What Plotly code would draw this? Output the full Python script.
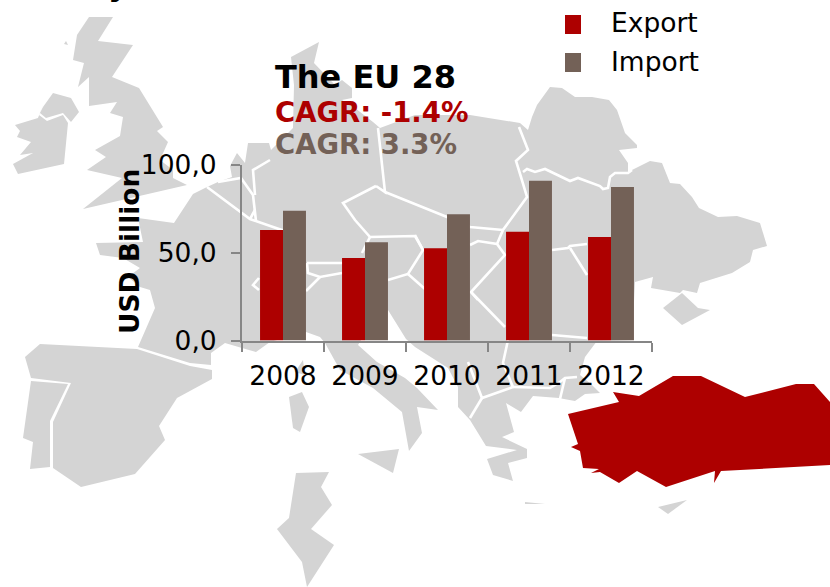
import plotly.graph_objects as go

W, H = 830, 587

# Chart data
years = ["2008", "2009", "2010", "2011", "2012"]
export_values = [63, 47, 52.5, 62, 59]
import_values = [74, 56, 72, 91, 87.5]
y_ticks = [0, 50, 100]
y_tick_labels = ["0,0", "50,0", "100,0"]

RED = "#AD0000"
BROWN = "#736157"
LAND = "#D4D4D4"
AXIS = "#868686"
FONT = "DejaVu Sans"

# Decorative backdrop map, outlines in page pixels
land_outlines = [
    [(89,17),(113,17),(98,41),(133,45),(112,77),(139,88),(163,127),(157,131),(168,142),(160,160),(173,170),(173,178),(187,185),(135,197),(83,209),(122,178),(87,170),(106,157),(95,150),(120,136),(123,117),(110,113),(117,102),(89,106),(89,77),(78,87),(84,63),(73,60),(77,35)],
    [(66,41),(68,45),(64,44)],
    [(53,93),(71,98),(79,112),(71,122),(63,113),(46,118),(40,113),(43,107)],
    [(44,102),(38,118),(15,125),(20,131),(17,137),(31,142),(20,155),(33,153),(13,164),(18,174),(64,164),(68,123),(63,115),(47,121),(39,115)],
    [(96,243),(143,242),(138,218),(174,223),(193,194),(207,187),(218,182),(232,177),(230,166),(237,153),(245,163),(248,143),(269,143),(271,150),(293,128),(294,85),(291,57),(319,42),(314,63),(335,85),(342,80),(352,88),(352,98),(342,100),(355,108),(373,122),(380,128),(415,115),(470,115),(520,123),(528,130),(532,117),(537,105),(550,87),(562,88),(575,97),(592,97),(609,100),(617,110),(625,133),(637,145),(637,148),(619,150),(628,163),(628,172),(632,170),(650,161),(662,163),(670,183),(680,184),(692,197),(699,208),(718,217),(737,216),(760,223),(767,246),(753,250),(750,262),(732,273),(700,283),(697,293),(683,290),(680,293),(651,288),(653,277),(635,282),(632,340),(597,341),(585,357),(580,375),(592,385),(600,393),(585,394),(575,401),(564,399),(559,398),(533,396),(521,412),(506,403),(514,432),(502,437),(527,449),(527,458),(508,463),(513,481),(493,475),(487,459),(517,450),(486,446),(470,420),(458,407),(458,387),(448,368),(415,347),(406,339),(388,310),(370,325),(358,345),(377,362),(405,378),(417,388),(438,410),(417,407),(422,433),(409,451),(402,412),(373,388),(340,370),(325,343),(320,337),(306,332),(270,342),(256,352),(242,348),(225,343),(211,353),(211,365),(190,363),(138,347),(155,308),(150,290),(140,287),(128,277),(140,268),(123,258),(100,255)],
    [(682,293),(698,308),(710,310),(682,325),(663,308)],
    [(40,344),(137,349),(190,366),(212,370),(212,379),(177,398),(159,426),(165,440),(135,474),(81,487),(53,468),(53,422),(71,383),(31,378),(25,357)],
    [(31,381),(68,384),(50,421),(50,467),(30,469),(33,442),(23,438)],
    [(289,397),(302,392),(309,407),(300,432),(293,428)],
    [(303,360),(305,375),(295,372)],
    [(358,454),(399,449),(393,473)],
    [(296,473),(329,472),(321,487),(332,505),(311,529),(334,545),(307,587),(302,562),(277,529),(289,518)],
    [(658,507),(687,500),(668,514)],
    [(525,502),(545,504),(525,504)],
]
turkey_outline = [(568,414),(619,402),(613,392),(639,396),(673,376),(701,376),(745,397),(796,384),(814,384),(830,402),(830,465),(721,471),(714,483),(715,471),(666,487),(637,471),(619,483),(600,472),(591,473),(599,469),(583,468),(580,451),(571,447),(578,444)]
border_lines = [
    [(207,187),(250,219),(276,228),(300,236)],
    [(218,182),(241,178),(253,195),(256,221)],
    [(255,210),(250,219)],
    [(270,160),(253,170),(255,195)],
    [(376,186),(343,203),(355,220),(370,237),(415,236),(423,250),(408,274),(388,280)],
    [(376,186),(385,192),(378,128)],
    [(385,192),(447,217),(470,227),(503,230)],
    [(519,127),(528,150),(516,161),(521,177),(527,197),(503,230),(497,244)],
    [(523,172),(527,169),(535,172),(545,169),(570,181),(578,178),(600,186),(603,189),(608,188),(610,177),(615,173),(628,173),(632,170)],
    [(470,245),(478,241),(497,244),(505,255),(471,292),(505,327)],
    [(552,250),(568,248),(570,246),(587,244)],
    [(570,248),(587,275)],
    [(307,263),(342,263)],
    [(307,263),(308,273),(320,277),(342,273)],
    [(320,277),(306,291)],
    [(259,278),(253,285),(259,290)],
    [(370,237),(362,253)],
    [(408,274),(425,289)],
    [(415,235),(422,248)],
    [(471,292),(478,300)],
    [(552,335),(587,338)],
    [(508,340),(503,363),(513,387),(482,398),(468,362)],
    [(482,398),(470,418)],
    [(513,387),(550,388),(560,382),(565,378),(577,377)],
    [(565,378),(560,399)],
]
legend_swatches = [(565, 15, 581, 34, RED), (565, 53, 581, 72, BROWN)]


def px(x):
    return x / W


def py(y):
    return 1 - y / H


def path(points, close):
    d = "M" + " L".join(f"{px(x):.5f},{py(y):.5f}" for x, y in points)
    return d + (" Z" if close else "")


shapes = []
for outline in land_outlines:
    shapes.append(dict(type="path", xref="paper", yref="paper", path=path(outline, True),
                       fillcolor=LAND, line=dict(width=0), layer="below"))
shapes.append(dict(type="path", xref="paper", yref="paper", path=path(turkey_outline, True),
                   fillcolor=RED, line=dict(width=0), layer="below"))
for line in border_lines:
    shapes.append(dict(type="path", xref="paper", yref="paper", path=path(line, False),
                       line=dict(color="white", width=2.6), layer="below"))
for x0, y0, x1, y1, c in legend_swatches:
    shapes.append(dict(type="rect", xref="paper", yref="paper", x0=px(x0), x1=px(x1), y0=py(y1), y1=py(y0),
                       fillcolor=c, line=dict(width=0)))


def label(text, x, y, size, color="black", bold=False, xanchor="left", angle=0):
    return dict(text=f"<b>{text}</b>" if bold else text, x=px(x), y=py(y), xref="paper", yref="paper",
                xanchor=xanchor, yanchor="middle", showarrow=False, textangle=angle,
                font=dict(family=FONT, size=size, color=color))


annotations = [
    label("The EU 28", 273, 77, 32, bold=True),
    label("CAGR: -1.4%", 273, 112, 27.5, RED, True),
    label("CAGR: 3.3%", 273, 144, 27.5, BROWN, True),
    label("Export", 609, 22, 26.5),
    label("Import", 609, 62, 26.5),
    label("USD Billion", 129, 252, 26.5, bold=True, xanchor="center", angle=-90),
    label("y", 106, -16, 32, bold=True),
]

fig = go.Figure()
fig.add_bar(name="Export", x=years, y=export_values, marker=dict(color=RED, line=dict(width=0)))
fig.add_bar(name="Import", x=years, y=import_values, marker=dict(color=BROWN, line=dict(width=0)))
fig.update_layout(
    width=W, height=H, autosize=False,
    margin=dict(l=0, r=0, t=0, b=0, pad=0),
    paper_bgcolor="white", plot_bgcolor="rgba(0,0,0,0)",
    barmode="group", bargap=0.44, bargroupgap=0,
    showlegend=False, shapes=shapes, annotations=annotations,
    font=dict(family=FONT, size=26, color="black"),
    xaxis=dict(domain=[px(242), px(652)], type="category", tickson="boundaries",
               ticks="outside", ticklen=9, tickwidth=2, tickcolor=AXIS, ticklabelstandoff=11,
               showline=True, linecolor=AXIS, linewidth=2, showgrid=False, zeroline=False,
               tickfont=dict(family=FONT, size=26.5), automargin=False),
    yaxis=dict(domain=[py(340.5), py(165)], range=[0, 100], tickvals=y_ticks, ticktext=y_tick_labels,
               ticks="outside", ticklen=9, tickwidth=2, tickcolor=AXIS, ticklabelstandoff=9,
               showline=True, linecolor=AXIS, linewidth=2, showgrid=False, zeroline=False,
               tickfont=dict(family=FONT, size=26.5), automargin=False),
)
fig.write_html("out.html", post_script="document.body.style.margin='0';",
               config=dict(displayModeBar=False))
